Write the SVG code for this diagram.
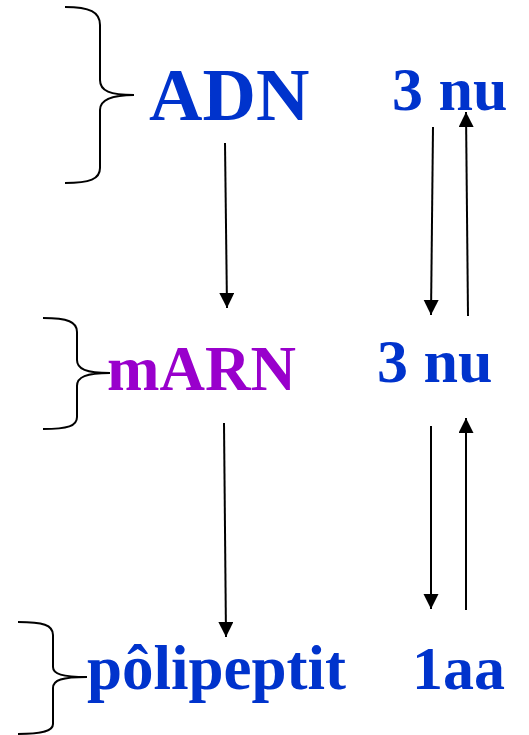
<svg xmlns="http://www.w3.org/2000/svg" width="529" height="735" viewBox="0 0 529 735">
  <style>
    .lbl { font-family: "Liberation Serif", "Times New Roman", serif; font-weight: bold; }
    .blue { fill: #0033cc; }
    .purple { fill: #9900cc; }
    .brace { fill: none; stroke: #000; stroke-width: 2; }
    .conn { stroke: #000; stroke-width: 2; fill: none; marker-end: url(#head); }
  </style>
  <defs>
    <marker id="head" markerUnits="userSpaceOnUse" markerWidth="16" markerHeight="16" refX="15" refY="7.5" orient="auto">
      <path d="M0,0 L15,7.5 L0,15 z" fill="#000"/>
    </marker>
  </defs>
  <rect width="529" height="735" fill="#fff"/>

  <g id="adn">
    <path class="brace" d="M65,7 C90,7 100,12 100,25 L100,80 C100,91 110,95 134,95 C110,95 100,100 100,110 L100,168 C100,179 90,183 65,183"/>
    <text class="lbl blue" x="149" y="120" font-size="74">ADN</text>
  </g>

  <g id="marn">
    <path class="brace" d="M43,318 C68,318 77,322 77,332 L77,360 C77,369 86,373 110,373 C86,373 77,377 77,386 L77,417 C77,426 68,429 43,429"/>
    <text class="lbl purple" x="107" y="390" font-size="63">mARN</text>
  </g>

  <g id="polipeptit">
    <path class="brace" d="M18,622 C43,622 53,625 53,635 L53,667 C53,674 62,677 87,677 C62,677 53,680 53,688 L53,724 C53,731 43,734 18,734"/>
    <text class="lbl blue" x="87" y="689" font-size="63">pôlipeptit</text>
  </g>

  <g id="nu-top">
    <text class="lbl blue" x="392" y="110" font-size="62">3 nu</text>
  </g>

  <g id="nu-mid">
    <text class="lbl blue" x="377" y="382" font-size="62">3 nu</text>
  </g>

  <g id="aa">
    <text class="lbl blue" x="412" y="689" font-size="62">1aa</text>
  </g>

  <g id="connectors">
    <line class="conn" x1="225" y1="143" x2="227" y2="308"/>
    <line class="conn" x1="224" y1="423" x2="226" y2="637"/>
    <line class="conn" x1="433" y1="127" x2="431" y2="315"/>
    <line class="conn" x1="468" y1="316" x2="466" y2="112"/>
    <line class="conn" x1="431" y1="426" x2="431" y2="609"/>
    <line class="conn" x1="466" y1="610" x2="466" y2="418"/>
  </g>
</svg>
